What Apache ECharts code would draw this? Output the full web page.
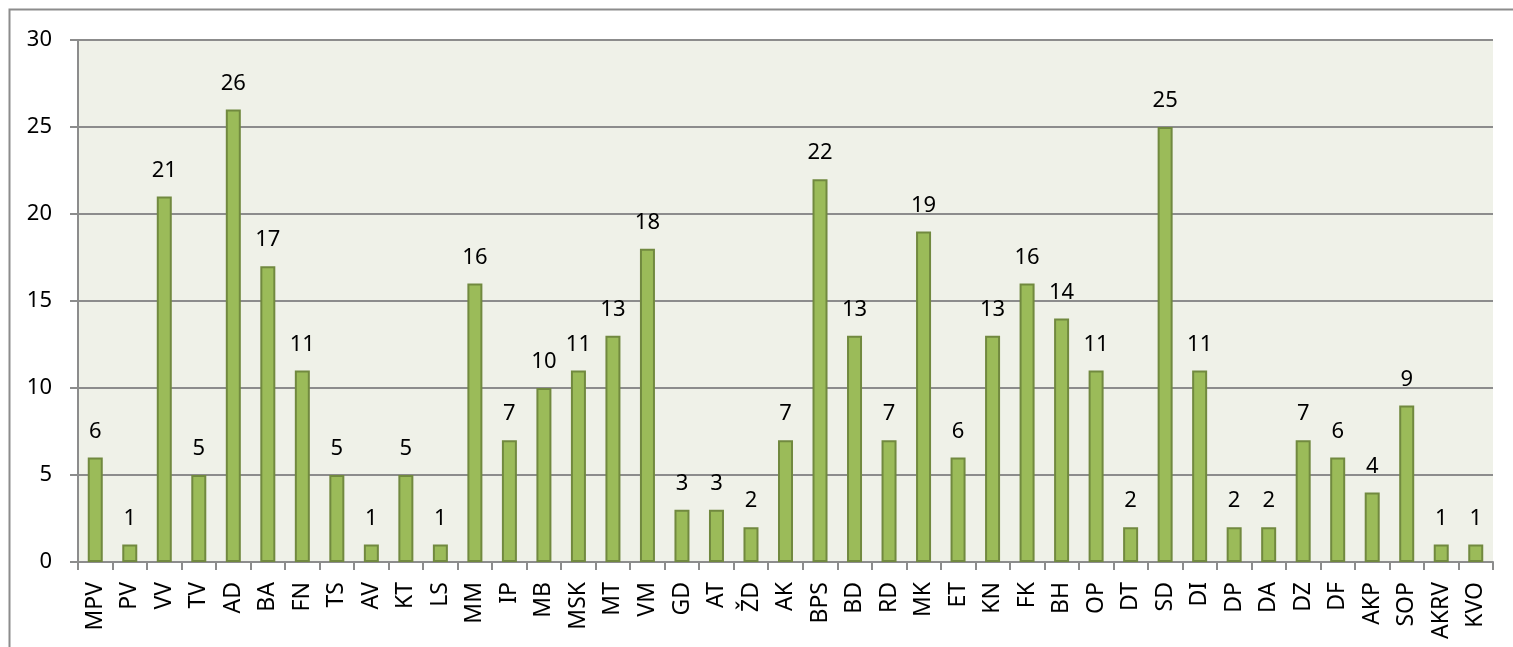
<!DOCTYPE html>
<html lang="sl">
<head>
	<meta charset="utf-8"/>
	<title>Chart</title>
	<script src="https://cdn.jsdelivr.net/npm/echarts@6/dist/echarts.min.js"></script>
	<style>
		html, body { margin: 0; padding: 0; background: #fff; }
		#chart { width: 1513px; height: 647px; }
	</style>
</head>
<body>
<div id="chart"></div>
<script type="text/javascript">
	// kategorije
	var categories = ['MPV', 'PV', 'VV', 'TV', 'AD', 'BA', 'FN', 'TS', 'AV', 'KT', 'LS', 'MM', 'IP', 'MB', 'MSK', 'MT', 'VM',
		'GD', 'AT', 'ŽD', 'AK', 'BPS', 'BD', 'RD', 'MK', 'ET', 'KN', 'FK', 'BH', 'OP', 'DT', 'SD', 'DI', 'DP', 'DA', 'DZ',
		'DF', 'AKP', 'SOP', 'AKRV', 'KVO'];
	// vrednosti
	var values = [6, 1, 21, 5, 26, 17, 11, 5, 1, 5, 1, 16, 7, 10, 11, 13, 18,
		3, 3, 2, 7, 22, 13, 7, 19, 6, 13, 16, 14, 11, 2, 25, 11, 2, 2, 7,
		6, 4, 9, 1, 1];
	var yTicks = [0, 5, 10, 15, 20, 25, 30];

	var fontName = "'Noto Sans', sans-serif";
	var chart = echarts.init(document.getElementById('chart'));
	var option = {
		animation: false,
		graphic: [
			{
				type: 'rect',
				shape: { x: 9.5, y: 9.5, width: 1520, height: 660 },
				style: { fill: 'none', stroke: '#8c8c8c', lineWidth: 2 },
				z: -1
			}
		],
		grid: {
			left: 78,
			right: 20,
			top: 40,
			bottom: 85,
			show: true,
			backgroundColor: '#eff1e8',
			borderWidth: 0
		},
		xAxis: {
			type: 'category',
			data: categories,
			axisLine: { lineStyle: { color: '#8c8c8c', width: 2 } },
			axisTick: { show: true, length: 8, lineStyle: { color: '#8c8c8c', width: 2 } },
			axisLabel: {
				rotate: 90,
				interval: 0,
				color: '#000',
				fontSize: 23,
				fontFamily: fontName,
				margin: 20
			}
		},
		yAxis: {
			type: 'value',
			min: yTicks[0],
			max: yTicks[yTicks.length - 1],
			interval: 5,
			axisLine: { show: true, lineStyle: { color: '#8c8c8c', width: 2 } },
			axisTick: { show: true, length: 8, lineStyle: { color: '#8c8c8c', width: 2 } },
			axisLabel: {
				color: '#000',
				fontSize: 22,
				fontFamily: fontName,
				margin: 26
			},
			splitLine: { lineStyle: { color: '#8c8c8c', width: 2 } }
		},
		series: [
			{
				type: 'bar',
				data: values,
				barWidth: 15,
				itemStyle: {
					color: '#9bbb59',
					borderColor: '#71893f',
					borderWidth: 2
				},
				label: {
					show: true,
					position: 'top',
					distance: 15,
					color: '#000',
					fontSize: 22,
					fontFamily: fontName
				}
			}
		]
	};
	chart.setOption(option);
</script>
</body>
</html>
